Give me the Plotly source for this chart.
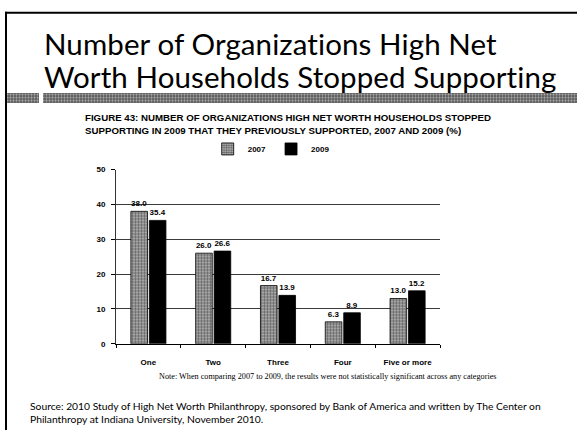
import plotly.graph_objects as go

# Survey data: share of households (%) by number of organizations dropped
categories = ["One", "Two", "Three", "Four", "Five or more"]
values_2007 = [38.0, 26.0, 16.7, 6.3, 13.0]
values_2009 = [35.4, 26.6, 13.9, 8.9, 15.2]
series_names = ["2007", "2009"]
y_ticks = [0, 10, 20, 30, 40, 50]

W, H = 577, 435


def px_x(x):
    return x / W


def px_y(y):
    return 1 - y / H


fig = go.Figure()

label_font = dict(family="Liberation Sans, Arial", size=8, color="black", weight="bold")

fig.add_trace(go.Bar(
    name=series_names[0], x=categories, y=values_2007,
    text=[f"{v:.1f}" for v in values_2007], textposition="outside",
    textfont=label_font, cliponaxis=False,
    marker=dict(
        color="#8a8a8a",
        line=dict(color="black", width=0.8),
        pattern=dict(shape=".", fgcolor="black", bgcolor="#c4c4c4", size=3, solidity=0.6),
    ),
    xaxis="x", yaxis="y",
))
fig.add_trace(go.Bar(
    name=series_names[1], x=categories, y=values_2009,
    text=[f"{v:.1f}" for v in values_2009], textposition="outside",
    textfont=label_font, cliponaxis=False,
    marker=dict(color="black", line=dict(color="black", width=0.8)),
    xaxis="x", yaxis="y",
))

# Textured rule under the slide title (two segments)
fig.add_trace(go.Bar(
    orientation="h", y=[0, 0], x=[33, 534], base=[6, 43], width=1,
    marker=dict(
        color="#707070", line=dict(width=0),
        pattern=dict(shape=".", fgcolor="white", bgcolor="#5e5e5e", size=3, solidity=0.35),
    ),
    showlegend=False, hoverinfo="skip",
    xaxis="x2", yaxis="y2",
))

fig.update_layout(
    width=W, height=H,
    margin=dict(l=0, r=0, t=0, b=0),
    paper_bgcolor="white", plot_bgcolor="white",
    barmode="group", bargap=0.43, bargroupgap=0.1,
    font=dict(family="Liberation Sans, Arial", color="black"),
    xaxis=dict(
        domain=[px_x(116), px_x(440)],
        anchor="y",
        showline=True, linecolor="black", linewidth=1,
        ticks="outside", tickson="boundaries", ticklen=3, tickcolor="black",
        tickfont=dict(family="Liberation Sans, Arial", size=8, color="black", weight="bold"),
        ticklabelstandoff=11,
        showgrid=False,
    ),
    yaxis=dict(
        domain=[px_y(347), px_y(169)],
        anchor="x",
        range=[0, 50], tickvals=y_ticks,
        showline=True, linecolor="#333", linewidth=1,
        ticks="outside", ticklen=4, tickcolor="black",
        showgrid=True, gridcolor="#3a3a3a", gridwidth=1,
        zeroline=False,
        tickfont=dict(family="Liberation Sans, Arial", size=8, color="black", weight="bold"),
        ticklabelstandoff=4,
    ),
    xaxis2=dict(domain=[0, 1], range=[0, W], visible=False, anchor="y2", fixedrange=True),
    yaxis2=dict(domain=[px_y(101), px_y(91)], range=[-0.5, 0.5], visible=False, anchor="x2", fixedrange=True),
    legend=dict(
        orientation="h", x=0.47, xanchor="center", y=px_y(148), yanchor="middle",
        font=dict(family="Liberation Sans, Arial", size=8, color="black", weight="bold"),
        itemwidth=30, bgcolor="rgba(0,0,0,0)", tracegroupgap=0,
    ),
    showlegend=True,
)

title_font = dict(family="Lato, Open Sans", size=29.5, color="black")
annotations = [
    dict(text='<span style="letter-spacing:0.1px">Number of Organizations High Net</span>',
         x=px_x(42), y=px_y(40), xanchor="left", yanchor="middle", font=title_font),
    dict(text='<span style="letter-spacing:0.1px">Worth Households Stopped Supporting</span>',
         x=px_x(42), y=px_y(74), xanchor="left", yanchor="middle", font=title_font),
    dict(text="FIGURE 43: NUMBER OF ORGANIZATIONS HIGH NET WORTH HOUSEHOLDS STOPPED<br>"
              "SUPPORTING IN 2009 THAT THEY PREVIOUSLY SUPPORTED, 2007 AND 2009 (%)",
         x=px_x(83), y=px_y(123), xanchor="left", yanchor="middle", align="left",
         font=dict(family="Liberation Sans, Arial", size=9.7, color="black", weight="bold")),
    dict(text="Note: When comparing 2007 to 2009, the results were not statistically significant across any categories",
         x=px_x(328), y=px_y(380), xanchor="center", yanchor="middle",
         font=dict(family="Liberation Serif, Times New Roman", size=8.2, color="black")),
    dict(text="Source: 2010 Study of High Net Worth Philanthropy, sponsored by Bank of America and written by The Center on<br>"
              "Philanthropy at Indiana University, November 2010.",
         x=px_x(28), y=px_y(417), xanchor="left", yanchor="middle", align="left",
         font=dict(family="Lato, Open Sans", size=10.3, color="black")),
]
for a in annotations:
    a.update(xref="paper", yref="paper", showarrow=False)
fig.update_layout(annotations=annotations)

# Slide frame lines (top and left)
fig.update_layout(shapes=[
    dict(type="line", xref="paper", yref="paper", x0=px_x(5), x1=1, y0=px_y(9), y1=px_y(9),
         line=dict(color="black", width=2)),
    dict(type="line", xref="paper", yref="paper", x0=px_x(6), x1=px_x(6), y0=px_y(8), y1=0,
         line=dict(color="black", width=2)),
])

fig.write_html("out.html")
